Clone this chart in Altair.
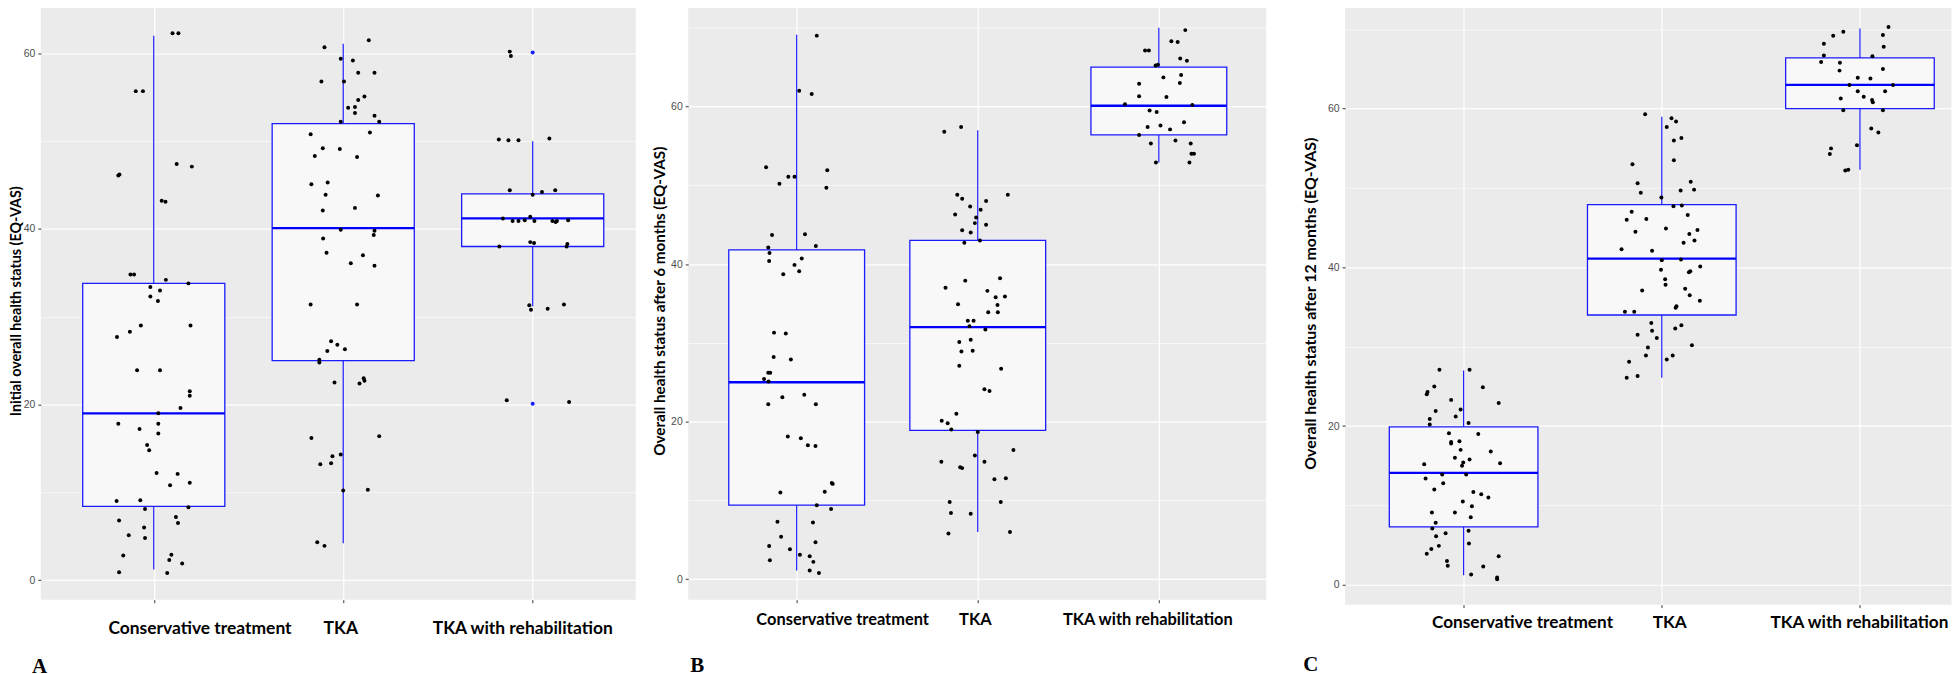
import altair as alt
import pandas as pd

CATEGORIES = ["Conservative treatment", "TKA", "TKA with rehabilitation"]
Y_TITLES = [
    "Initial overall health status (EQ-VAS)",
    "Overall health status after 6 months (EQ-VAS)",
    "Overall health status after 12 months (EQ-VAS)",
]
LETTERS = ["A", "B", "C"]

# ---------------- Panel A: initial status ----------------
A_CONS_VAL = [62.3, 62.3, 55.7, 55.7, 46.1, 46.2, 43.2, 43.1, 47.4, 47.1,
              34.8, 34.8, 33.4, 34.2, 33.8, 32.3, 33.0, 31.8, 27.7, 28.3,
              29.0, 29.0, 23.9, 23.9, 21.5, 21.0, 19.6, 19.0, 17.8, 17.8,
              17.2, 16.7, 15.4, 14.8, 12.2, 12.1, 11.1, 10.8, 9.0, 9.1,
              8.1, 8.3, 6.8, 7.2, 6.5, 6.0, 5.1, 4.8, 2.8, 2.9,
              2.3, 1.9, 0.9, 0.8]
A_CONS_JIT = [0.099, 0.130, -0.095, -0.057, -0.187, -0.181, 0.042, 0.062, 0.121, 0.201,
              -0.123, -0.104, -0.018, 0.064, 0.183, -0.018, 0.033, 0.022, -0.194, -0.126,
              -0.068, 0.194, -0.088, 0.033, 0.190, 0.190, 0.141, 0.024, -0.187, 0.024,
              -0.075, 0.024, -0.035, -0.024, 0.015, 0.126, 0.190, 0.086, -0.196, -0.071,
              -0.046, 0.183, -0.183, 0.117, 0.128, -0.051, -0.132, -0.046, -0.161, 0.093,
              0.082, 0.150, -0.183, 0.071]
A_TKA_VAL = [61.5, 60.7, 59.4, 59.2, 57.8, 57.8, 56.8, 56.8, 55.1, 54.7,
             53.8, 53.9, 53.2, 52.9, 52.2, 52.2, 51.0, 50.8, 49.2, 49.1,
             48.3, 48.2, 45.1, 45.3, 43.9, 43.8, 42.1, 42.4, 39.9, 39.8,
             39.3, 38.9, 37.3, 37.0, 36.1, 35.8, 31.4, 31.4, 27.2, 26.8,
             26.1, 26.3, 25.1, 24.8, 22.5, 23.0, 22.7, 22.4, 16.2, 16.4,
             14.3, 14.1, 13.2, 13.3, 10.2, 10.3, 4.3, 3.9]
A_TKA_JIT = [0.135, -0.099, -0.013, 0.051, 0.079, 0.165, -0.115, 0.004, 0.112, 0.079,
             0.026, 0.062, 0.062, 0.165, 0.190, -0.013, 0.141, -0.172, -0.108, -0.018,
             -0.150, 0.073, -0.168, -0.082, -0.093, 0.183, -0.108, 0.062, -0.013, 0.165,
             0.161, -0.106, -0.088, 0.104, 0.040, 0.165, -0.172, 0.073, -0.064, -0.031,
             -0.084, 0.009, -0.126, -0.126, -0.046, 0.108, 0.112, 0.086, -0.168, 0.190,
             -0.013, -0.057, -0.121, -0.064, 0.000, 0.130, -0.137, -0.099]
A_REH_VAL = [60.2, 59.7, 50.2, 50.1, 50.1, 50.3, 44.4, 44.2, 44.4, 43.9,
             41.2, 40.9, 40.9, 41.0, 41.4, 40.9, 40.9, 40.8, 41.0, 40.9,
             38.5, 38.4, 38.0, 38.3, 38.0, 31.3, 30.8, 30.9, 31.4, 20.5, 20.3]
A_REH_JIT = [-0.121, -0.115, -0.179, -0.128, -0.075, 0.088, -0.121, 0.049, 0.119, 0.000,
             -0.157, -0.106, -0.075, -0.042, -0.013, 0.009, 0.104, 0.121, 0.187, 0.128,
             -0.013, 0.007, -0.176, 0.183, 0.179, -0.018, -0.009, 0.079, 0.165, -0.137, 0.192]
A_BOX = {"lo": [1.2, 4.2, 31.2], "q1": [8.4, 25.0, 38.0], "med": [19.0, 40.1, 41.2],
         "q3": [33.8, 52.0, 44.0], "hi": [62.0, 61.1, 50.0]}
A_OUT_GRP = [2, 2]
A_OUT_VAL = [60.1, 20.1]

# ---------------- Panel B: after 6 months ----------------
B_CONS_VAL = [69.0, 62.0, 61.6, 52.3, 51.9, 51.1, 51.1, 50.2, 49.7, 43.7,
              43.8, 42.1, 42.3, 41.4, 40.4, 40.7, 39.9, 39.1, 38.7, 31.3,
              31.2, 28.2, 27.9, 26.2, 26.2, 25.4, 25.1, 23.4, 23.1, 22.2,
              22.2, 18.1, 17.9, 17.0, 16.9, 12.2, 12.1, 11.1, 11.0, 9.4,
              8.9, 7.3, 7.2, 5.4, 4.7, 4.2, 3.8, 3.1, 2.9, 2.4,
              2.2, 1.1, 0.8]
B_CONS_JIT = [0.111, 0.014, 0.083, -0.169, 0.169, -0.046, -0.012, -0.095, 0.164, -0.136,
              0.046, -0.157, 0.106, -0.150, -0.152, 0.028, -0.012, 0.014, -0.074, -0.125,
              -0.060, -0.127, -0.032, -0.157, -0.146, -0.180, -0.155, 0.042, -0.079, -0.157,
              0.106, -0.049, 0.023, 0.062, 0.104, 0.194, 0.199, 0.155, -0.090, 0.111,
              0.190, -0.106, 0.090, -0.086, 0.104, -0.152, -0.037, 0.018, 0.072, -0.148,
              0.092, 0.072, 0.123]
B_TKA_VAL = [57.4, 56.8, 48.8, 48.8, 48.3, 48.0, 47.3, 46.9, 46.3, 45.9,
             45.2, 45.0, 44.3, 44.0, 43.0, 42.7, 38.2, 37.9, 37.0, 36.6,
             35.8, 35.9, 34.9, 34.8, 33.9, 33.9, 32.8, 32.8, 32.1, 31.7,
             30.1, 30.4, 28.9, 29.0, 27.1, 26.7, 24.1, 23.9, 21.0, 20.1,
             19.8, 19.0, 18.7, 16.4, 15.7, 14.9, 14.9, 14.2, 14.1, 12.7,
             12.8, 9.8, 9.8, 8.4, 8.3, 5.8, 6.0]
B_TKA_JIT = [-0.092, -0.185, 0.166, -0.113, -0.086, 0.046, -0.042, 0.016, -0.125, -0.009,
             -0.016, 0.046, -0.086, -0.039, 0.012, -0.074, 0.123, -0.069, -0.178, 0.053,
             0.099, 0.150, -0.109, 0.109, 0.058, 0.111, -0.055, -0.023, -0.046, 0.042,
             -0.102, -0.039, -0.090, -0.028, -0.102, 0.129, 0.037, 0.065, -0.118, -0.199,
             -0.166, -0.146, 0.000, 0.197, -0.016, -0.201, 0.037, -0.097, -0.086, 0.092,
             0.155, -0.155, 0.127, -0.148, -0.039, -0.162, 0.178]
B_REH_VAL = [69.7, 68.3, 68.2, 67.1, 67.1, 66.1, 65.8, 65.2, 65.3, 63.7,
             64.0, 62.9, 63.0, 61.3, 61.2, 60.3, 60.2, 59.5, 59.3, 57.4,
             57.6, 58.0, 57.1, 56.4, 55.7, 55.3, 55.3, 54.0, 54.0, 52.9, 52.9]
B_REH_JIT = [0.146, 0.069, 0.104, -0.076, -0.055, 0.118, 0.155, -0.018, -0.005, 0.025,
             0.123, -0.109, 0.116, -0.109, 0.042, -0.187, 0.185, -0.051, -0.012, -0.062,
             0.009, 0.139, 0.062, -0.109, 0.092, -0.044, 0.176, 0.180, 0.194, -0.016, 0.169]
B_BOX = {"lo": [1.1, 6.0, 52.9], "q1": [9.4, 18.9, 56.4], "med": [25.0, 32.0, 60.1],
         "q3": [41.8, 43.0, 65.0], "hi": [69.1, 57.0, 70.0]}

# ---------------- Panel C: after 12 months ----------------
C_CONS_VAL = [27.1, 27.1, 25.0, 24.9, 24.3, 24.0, 23.3, 22.9, 22.1, 21.9,
              21.2, 20.9, 20.2, 20.4, 19.1, 19.0, 18.0, 17.8, 18.1, 17.0,
              16.8, 16.0, 15.8, 15.2, 15.4, 15.0, 15.3, 13.4, 13.9, 13.9,
              12.8, 12.0, 11.7, 11.4, 11.0, 10.5, 9.9, 9.1, 9.1, 8.5,
              7.8, 7.1, 6.8, 6.5, 6.1, 5.2, 4.9, 4.5, 3.9, 3.6,
              3.0, 2.4, 2.3, 1.3, 0.9, 0.7]
C_CONS_JIT = [-0.122, 0.030, -0.148, 0.097, -0.182, -0.186, -0.063, 0.177, -0.015, -0.141,
              -0.040, -0.171, -0.171, 0.025, -0.074, 0.074, -0.063, -0.063, -0.021, -0.015,
              0.137, -0.044, 0.030, -0.199, -0.002, -0.008, 0.184, -0.192, -0.108, 0.013,
              -0.103, -0.148, 0.049, 0.089, 0.125, -0.004, 0.042, -0.160, -0.044, 0.036,
              -0.141, -0.158, 0.025, -0.091, -0.139, 0.027, -0.125, -0.163, -0.186, 0.177,
              -0.084, -0.080, 0.099, 0.038, 0.169, 0.169]
C_TKA_VAL = [59.3, 58.8, 58.4, 57.7, 56.3, 56.0, 53.5, 53.0, 50.8, 50.6,
             49.8, 49.7, 49.4, 48.8, 47.7, 47.8, 47.0, 46.6, 46.0, 46.1,
             44.9, 44.7, 44.5, 44.2, 43.4, 43.1, 42.3, 42.1, 40.9, 41.0,
             40.1, 39.7, 39.5, 39.4, 38.5, 37.8, 37.3, 37.1, 36.5, 35.8,
             35.1, 34.9, 34.4, 34.4, 33.0, 32.7, 32.3, 32.0, 31.5, 31.1,
             30.2, 29.9, 28.9, 28.9, 28.4, 28.1, 26.1, 26.3]
C_TKA_JIT = [-0.084, 0.049, 0.072, 0.025, 0.099, 0.061, 0.061, -0.148, 0.146, -0.122,
             0.163, 0.095, -0.106, -0.002, 0.059, 0.101, -0.152, 0.131, -0.177, -0.078,
             0.021, 0.180, -0.133, 0.139, 0.165, 0.110, -0.203, -0.049, 0.000, 0.097,
             0.194, -0.004, 0.144, 0.137, 0.017, 0.019, 0.118, -0.099, 0.141, 0.192,
             0.074, 0.070, -0.186, -0.139, -0.053, 0.099, 0.068, -0.049, -0.122, -0.025,
             0.152, -0.070, -0.080, 0.055, 0.025, -0.165, -0.177, -0.122]
C_REH_VAL = [70.3, 69.7, 69.2, 69.3, 68.2, 67.8, 66.7, 66.6, 65.9, 65.8,
             64.8, 65.0, 63.9, 63.8, 63.0, 63.0, 62.2, 62.2, 61.3, 61.5,
             61.1, 60.8, 59.8, 59.8, 57.5, 57.0, 55.4, 55.0, 54.3, 52.3, 52.2]
C_REH_JIT = [0.144, -0.084, -0.135, 0.116, -0.182, 0.120, -0.182, 0.063, -0.196, -0.101,
             -0.103, 0.116, -0.011, 0.053, -0.053, 0.167, -0.011, 0.127, -0.097, 0.019,
             0.061, 0.065, -0.084, 0.116, 0.057, 0.093, -0.015, -0.146, -0.152, -0.059, -0.074]
C_BOX = {"lo": [1.2, 26.1, 52.3], "q1": [7.3, 34.0, 60.0], "med": [14.1, 41.1, 63.0],
         "q3": [19.9, 47.9, 66.4], "hi": [27.0, 59.0, 70.1]}

# ---------------- styling ----------------
BLUE = "#1a1aff"
BOX_FILL = "#F8F8F8"
PANEL_BG = "#EBEBEB"
HALF_WIDTH = 0.375
SANS = "Lato"
LABEL_EXPR = "[" + ",".join("'" + c + "'" for c in CATEGORIES) + "][datum.value]"


def points_frame(groups):
    rows = []
    for g, (vals, jits) in enumerate(groups):
        for v, j in zip(vals, jits):
            rows.append({"grp": g, "jit": j, "val": v})
    return pd.DataFrame(rows)


def box_frame(stats):
    df = pd.DataFrame(stats)
    df["grp"] = list(range(len(CATEGORIES)))
    return df


def label_offset(offs):
    return {
        "condition": [
            {"test": "datum.value === 0", "value": offs[0]},
            {"test": "datum.value === 2", "value": offs[2]},
        ],
        "value": offs[1],
    }


def panel(pts, box, ytitle, letter, cfg, outliers=None):
    xs = alt.Scale(domain=cfg["xdom"], nice=False, zero=False)
    ys = alt.Scale(domain=cfg["ydom"], nice=False, zero=False)
    xax = alt.Axis(
        values=[0, 1, 2], labelExpr=LABEL_EXPR, title=None, grid=True,
        gridColor="white", gridWidth=1.2, domain=False, tickSize=3,
        tickColor="#333333", labelFont=SANS, labelFontWeight="bold",
        labelFontSize=cfg["xlab_size"], labelColor="black",
        labelPadding=cfg["xlab_pad"], labelOverlap=False, labelLimit=400,
        labelOffset=label_offset(cfg["xlab_off"]),
    )
    yax = alt.Axis(
        values=cfg["yvals"], labelExpr="datum.value % 20 === 0 ? datum.label : ''",
        title=ytitle, grid=True, gridColor="white",
        gridWidth={"condition": {"test": "datum.value % 20 === 0", "value": 1.2}, "value": 0.6},
        tickOpacity={"condition": {"test": "datum.value % 20 === 0", "value": 1}, "value": 0},
        domain=False, tickSize=3, tickColor="#333333",
        labelFont="Liberation Sans", labelFontSize=10.5, labelColor="#4D4D4D",
        labelPadding=3, titleFont=SANS, titleFontSize=cfg["ytitle_size"],
        titleFontWeight="bold", titleColor="black", titlePadding=cfg["ytitle_pad"],
        titleLimit=600,
    )

    def X(f):
        return alt.X(f, type="quantitative", scale=xs, axis=xax)

    def Y(f):
        return alt.Y(f, type="quantitative", scale=ys, axis=yax)

    bb = alt.Chart(box).transform_calculate(
        xa="datum.grp - %f" % HALF_WIDTH, xb="datum.grp + %f" % HALF_WIDTH
    )
    rect = bb.mark_rect(fill=BOX_FILL, stroke=BLUE, strokeWidth=1.3).encode(
        x=X("xa"), x2="xb:Q", y=Y("q1"), y2="q3:Q")
    w_up = bb.mark_rule(color=BLUE, strokeWidth=1.2).encode(x=X("grp"), y=Y("q3"), y2="hi:Q")
    w_lo = bb.mark_rule(color=BLUE, strokeWidth=1.2).encode(x=X("grp"), y=Y("lo"), y2="q1:Q")
    med = bb.mark_rule(color="#0000ff", strokeWidth=2.3).encode(x=X("xa"), x2="xb:Q", y=Y("med"))
    layers = [rect, w_up, w_lo, med]
    if outliers is not None:
        layers.append(
            alt.Chart(outliers).mark_circle(size=16, color=BLUE, opacity=1).encode(
                x=X("grp"), y=Y("val"))
        )
    layers.append(
        alt.Chart(pts).transform_calculate(xp="datum.grp + datum.jit")
        .mark_circle(size=16, color="black", opacity=1)
        .encode(x=X("xp"), y=Y("val"))
    )
    return alt.layer(*layers).properties(
        width=cfg["width"], height=cfg["height"],
        title=alt.TitleParams(
            text=letter, orient="bottom", anchor="start", frame="group",
            font="Liberation Serif", fontSize=21, fontWeight="bold", color="black",
            baseline="top", offset=cfg["letter_offset"], dx=cfg["letter_dx"],
        ),
    )


CFG_A = dict(xdom=[-0.596, 2.544], ydom=[-2.23, 65.88], width=598, height=601,
             yvals=[0, 10, 20, 30, 40, 50, 60], xlab_size=17.5, xlab_pad=17,
             xlab_off=[46, -3, -10.5],
             ytitle_size=14.4, ytitle_pad=0, letter_offset=19, letter_dx=-9)
CFG_B = dict(xdom=[-0.599, 2.593], ydom=[-2.60, 73.30], width=581, height=601,
             yvals=[0, 10, 20, 30, 40, 50, 60, 70], xlab_size=16.5, xlab_pad=8.5,
             xlab_off=[45.7, -3, -11.5],
             ytitle_size=15.3, ytitle_pad=3.2, letter_offset=27.5, letter_dx=2)
CFG_C = dict(xdom=[-0.598, 2.462], ydom=[-2.51, 73.48], width=609.5, height=606,
             yvals=[0, 10, 20, 30, 40, 50, 60, 70], xlab_size=17.3, xlab_pad=5.5,
             xlab_off=[58.7, 7.5, -1],
             ytitle_size=16, ytitle_pad=8.8, letter_offset=24, letter_dx=-42)

pts_a = points_frame([(A_CONS_VAL, A_CONS_JIT), (A_TKA_VAL, A_TKA_JIT), (A_REH_VAL, A_REH_JIT)])
pts_b = points_frame([(B_CONS_VAL, B_CONS_JIT), (B_TKA_VAL, B_TKA_JIT), (B_REH_VAL, B_REH_JIT)])
pts_c = points_frame([(C_CONS_VAL, C_CONS_JIT), (C_TKA_VAL, C_TKA_JIT), (C_REH_VAL, C_REH_JIT)])
out_a = pd.DataFrame({"grp": A_OUT_GRP, "val": A_OUT_VAL})

pA = panel(pts_a, box_frame(A_BOX), Y_TITLES[0], LETTERS[0], CFG_A, outliers=out_a)
pB = panel(pts_b, box_frame(B_BOX), Y_TITLES[1], LETTERS[1], CFG_B)
pC = panel(pts_c, box_frame(C_BOX), Y_TITLES[2], LETTERS[2], CFG_C)


def build(padding):
    return (
        alt.hconcat(alt.hconcat(pA, pB, spacing=16.7), pC, spacing=36)
        .properties(padding=padding, background="white")
        .configure_view(fill=PANEL_BG, strokeWidth=0)
    )


try:
    chart = build({"left": 0, "top": -8, "right": 0, "bottom": 0})
    chart.save("out.html", embed_options={"renderer": "svg", "actions": False})
except Exception:
    chart = build(0)
    chart.save("out.html", embed_options={"renderer": "svg", "actions": False})
